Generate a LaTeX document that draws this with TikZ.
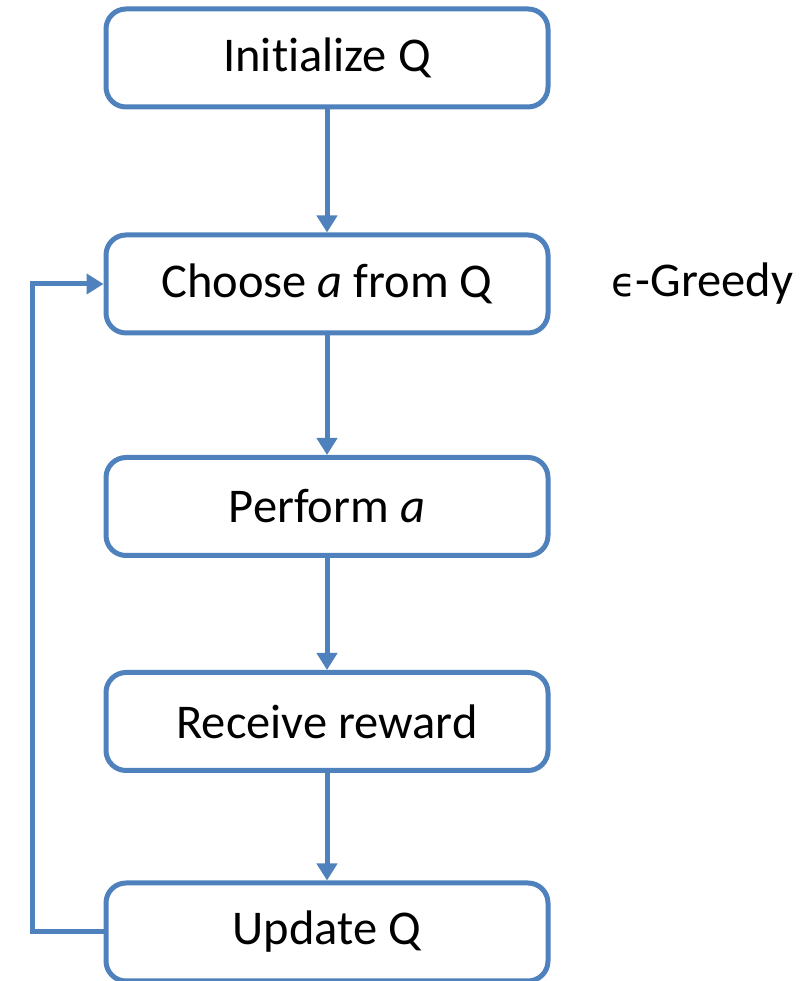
\documentclass[tikz,border=0pt]{standalone}
\usepackage{fontspec}
\setmainfont[Ligatures={NoCommon,TeX}]{Carlito}
\newfontfamily\greekfont{DejaVu Sans}
\usetikzlibrary{arrows.meta}
\definecolor{boxblue}{HTML}{4F81BD}
\tikzset{
  flowbox/.style={draw=boxblue, line width=5pt, rounded corners=20pt, fill=white,
    minimum width=442pt, minimum height=98pt, inner sep=0pt,
    font=\fontsize{48.5}{58}\selectfont, text=black},
  flowarrow/.style={draw=boxblue, line width=5pt,
    -{Triangle[width=20pt,length=17pt]}}
}
\begin{document}
\begin{tikzpicture}[x=1pt,y=1pt]
\useasboundingbox (0,0) rectangle (804,981);
\node[flowbox] (init) at (327,923) {Initialize Q};
\node[flowbox] (choose) at (327,697) {Choose \textit{a} from Q};
\node[flowbox] (perform) at (327,474.5) {Perform \textit{a}};
\node[flowbox] (reward) at (327,259.5) {Receive reward};
\node[flowbox] (update) at (327,49) {Update Q};
\node[font=\fontsize{48.5}{58}\selectfont, anchor=west, inner sep=0pt] (greedy) at (611,697) {{\greekfont\fontsize{40}{48}\selectfont ϵ}-Greedy};
\coordinate (loopcorner) at (32,49);
\draw[flowarrow] (init) -- (choose);
\draw[flowarrow] (choose) -- (perform);
\draw[flowarrow] (perform) -- (reward);
\draw[flowarrow] (reward) -- (update);
\draw[flowarrow] (update.west) -- (loopcorner) |- (choose.west);
\end{tikzpicture}
\end{document}
